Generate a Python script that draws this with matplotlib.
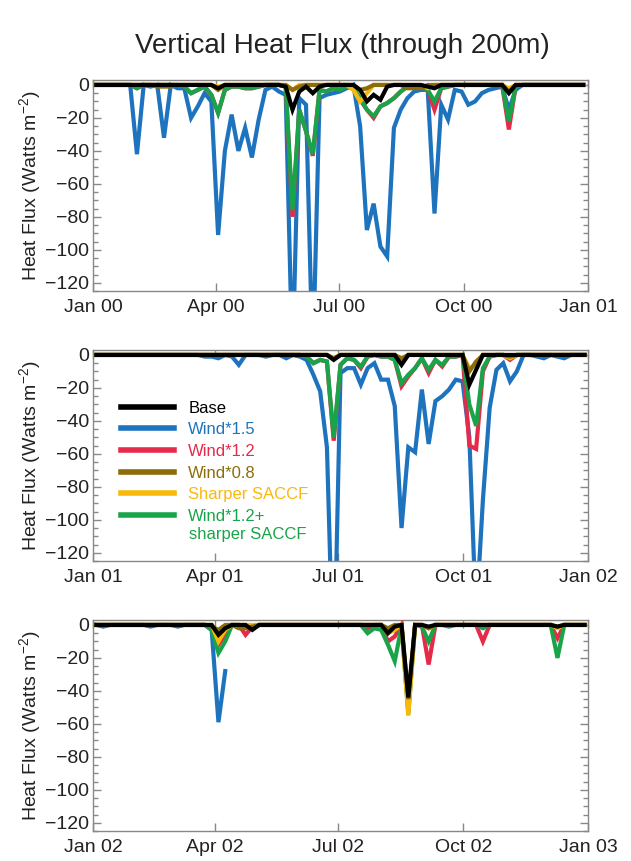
import matplotlib
matplotlib.use('Agg')
import matplotlib.pyplot as plt
import matplotlib.dates as mdates
from matplotlib.ticker import MultipleLocator
import numpy as np

plt.rcParams['font.family'] = ['Liberation Sans', 'DejaVu Sans']
plt.rcParams['mathtext.default'] = 'regular'

# 5-day means, 73 per year
years = [2000, 2001, 2002]
pentad_day = np.arange(73) * 5 + 2.5
nan = np.nan

# ---- 2000 ----
base_00 = [0, 0, 0, 0, 0, 0, 0, 0, 0, 0, 0, 0, 0, 0, 0, 0, 0, 0, -2, 0,
           0, 0, 0, 0, 0, 0, 0, 0, -1, -15, -4, -1, -5, -1, 0, 0, 0, 0, 0, -3,
           -10, -6, -9, -1, 0, 0, 0, 0, 0, -1, -2, 0, 0, 0, 0, 0, 0, 0, 0, 0,
           0, -5, 0, 0, 0, 0, 0, 0, 0, 0, 0, 0, 0]
w15_00 = [0, 0, 0, 0, 0, 0, -42, 0, -1, 0, -32, 0, -2, -2, -20, -13, -5, -10, -91, -40,
          -18, -40, -26, -44, -21, -3, -1, -4, -6, -170, -8, -12, -170, -8, -6, -5, -4, -2, 0, -25,
          -88, -72, -98, -104, -26, -15, -8, -4, -3, -3, -78, -12, -21, -3, -4, -12, -10, -5, -3, -2,
          -1, -15, -3, 0, 0, 0, 0, 0, 0, 0, 0, 0, 0]
w12_00 = [0, 0, 0, 0, 0, 0, -2, 0, 0, 0, 0, 0, 0, -1, -5, -3, -1, -6, -17, -3,
          -1, -1, -2, -2, -1, 0, 0, 0, -1, -80, -15, -28, -43, -3, -4, -2, -3, -1, -2, -9,
          -15, -20, -13, -11, -8, -4, -1, -1, -1, -3, -15, -2, -1, 0, 0, 0, 0, 0, 0, 0,
          0, -27, -1, 0, 0, 0, 0, 0, 0, 0, 0, 0, 0]
w08_00 = [0, 0, 0, 0, 0, 0, 0, 0, 0, -1, -1, -1, 0, 0, 0, 0, 0, 0, -3, 0,
          0, 0, 0, 0, 0, 0, 0, 0, 0, -3, -1, 0, 0, 0, 0, 0, 0, 0, 0, -3,
          -2, 0, 0, 0, 0, 0, -2, -2, -2, 0, 0, 0, 0, 0, 0, 0, 0, 0, 0, 0,
          0, -4, 0, 0, 0, 0, 0, 0, 0, 0, 0, 0, 0]
sharp_00 = [0, 0, 0, 0, 0, 0, 0, 0, 0, 0, 0, 0, 0, 0, 0, 0, 0, 0, -1, 0,
            0, 0, 0, 0, 0, 0, 0, 0, 0, -3, 0, 0, 0, 0, 0, 0, 0, 0, -3, -10,
            -5, 0, 0, 0, 0, 0, 0, 0, 0, -2, 0, 0, 0, 0, 0, 0, 0, 0, 0, 0,
            0, -2, 0, 0, 0, 0, 0, 0, 0, 0, 0, 0, 0]
w12s_00 = [0, 0, 0, 0, 0, 0, -2, 0, 0, 0, 0, 0, 0, -1, -5, -3, -1, -6, -17, -3,
           -1, -1, -2, -2, -1, 0, 0, 0, -1, -76, -15, -28, -42, -3, -4, -2, -3, -1, -2, -8,
           -15, -19, -13, -11, -8, -4, -1, -1, -1, -3, -10, -2, -1, 0, 0, 0, 0, 0, 0, 0,
           0, -22, -1, 0, 0, 0, 0, 0, 0, 0, 0, 0, 0]

# ---- 2001 ----
base_01 = [0, 0, 0, 0, 0, 0, 0, 0, 0, 0, 0, 0, 0, 0, 0, 0, 0, 0, 0, 0,
           0, 0, 0, 0, 0, 0, 0, 0, 0, 0, 0, 0, 0, 0, 0, -3, 0, 0, 0, 0,
           0, 0, 0, 0, 0, -6, 0, 0, 0, 0, 0, 0, 0, 0, 0, -18, -9, 0, 0, 0,
           0, 0, 0, 0, 0, 0, 0, 0, 0, 0, 0, 0, 0]
w15_01 = [0, 0, 0, 0, 0, 0, 0, 0, 0, 0, 0, 0, 0, 0, 0, 0, -1, -1, -2, 0,
          -1, -6, 0, 0, 0, -1, 0, 0, -2, 0, -1, -3, -12, -22, -56, -200, -11, -8, -8, -18,
          -8, -5, -15, -15, -31, -105, -56, -59, -21, -54, -28, -25, -21, -15, -16, -50, -160, -88, -32, -9,
          -5, -16, -10, 0, 0, -1, -2, 0, -1, -2, 0, 0, 0]
w12_01 = [0, 0, 0, 0, 0, 0, 0, 0, 0, 0, 0, 0, 0, 0, 0, 0, 0, 0, 0, 0,
          0, 0, 0, 0, 0, 0, 0, 0, 0, 0, 0, -1, -5, -3, -4, -52, -6, -2, -3, -8,
          -1, 0, -1, -1, -3, -19, -13, -8, -2, -11, -3, -7, -1, -1, 0, -55, -57, -10, -1, 0,
          0, -3, 0, 0, 0, 0, 0, 0, 0, 0, 0, 0, 0]
w08_01 = [0, 0, 0, 0, 0, 0, 0, 0, 0, 0, 0, 0, 0, 0, 0, 0, 0, 0, 0, 0,
          0, 0, 0, 0, 0, 0, 0, 0, 0, 0, 0, 0, 0, 0, 0, -2, 0, 0, 0, 0,
          0, 0, 0, 0, 0, -2, 0, 0, 0, 0, 0, 0, 0, 0, 0, -10, -4, 0, 0, 0,
          0, -1, 0, 0, 0, 0, 0, 0, 0, 0, 0, 0, 0]
sharp_01 = [0, 0, 0, 0, 0, 0, 0, 0, 0, 0, 0, 0, 0, 0, 0, 0, 0, 0, 0, 0,
            0, 0, 0, 0, 0, 0, 0, 0, 0, 0, 0, 0, 0, 0, 0, -2, 0, 0, 0, 0,
            0, 0, 0, 0, 0, -4, 0, 0, 0, 0, 0, 0, 0, 0, 0, -8, -6, 0, 0, 0,
            0, -2, 0, 0, 0, 0, 0, 0, 0, 0, 0, 0, 0]
w12s_01 = [0, 0, 0, 0, 0, 0, 0, 0, 0, 0, 0, 0, 0, 0, 0, 0, 0, 0, 0, 0,
           0, 0, 0, 0, 0, 0, 0, 0, 0, 0, 0, -1, -5, -3, -4, -50, -6, -2, -3, -7,
           -1, 0, -1, -1, -3, -17, -12, -8, -2, -9, -3, -6, -1, -1, 0, -30, -43, -8, -1, 0,
           0, -2, 0, 0, 0, 0, 0, 0, 0, 0, 0, 0, 0]

# ---- 2002 ----
base_02 = [0, 0, 0, 0, 0, 0, 0, 0, 0, 0, 0, 0, 0, 0, 0, 0, 0, 0, -6, -2,
           0, 0, 0, -3, 0, 0, 0, 0, 0, 0, 0, 0, 0, 0, 0, 0, 0, 0, 0, 0,
           0, 0, 0, -5, -1, 0, -44, 0, 0, -1, 0, 0, 0, 0, 0, 0, 0, 0, 0, 0,
           0, 0, 0, 0, 0, 0, 0, 0, -1, 0, 0, 0, 0]
w15_02 = [0, -1, 0, 0, 0, 0, 0, 0, -1, 0, 0, 0, -1, 0, 0, 0, 0, -3, -59, -28,
          nan, nan, nan, nan, nan, nan, nan, nan, nan, nan, nan, nan, nan, nan, nan, nan, nan, nan, nan, nan,
          nan, nan, nan, nan, nan, nan, nan, nan, nan, nan, nan, nan, nan, nan, nan, nan, nan, nan, nan, nan,
          nan, nan, nan, nan, nan, nan, nan, nan, nan, nan, nan, nan, nan]
w12_02 = [0, 0, 0, 0, 0, 0, 0, 0, 0, 0, 0, 0, 0, 0, 0, 0, 0, -1, -12, -6,
          0, 0, -6, -1, 0, 0, 0, 0, 0, 0, 0, 0, 0, 0, 0, 0, 0, 0, 0, 0,
          -2, 0, 0, -10, -7, 0, -50, 0, 0, -24, 0, 0, 0, 0, 0, 0, 0, -10, 0, 0,
          0, 0, 0, 0, 0, 0, 0, 0, -8, 0, 0, 0, 0]
w08_02 = [0, 0, 0, 0, 0, 0, 0, 0, 0, 0, 0, 0, 0, 0, 0, 0, 0, -1, -3, 0,
          0, -2, -2, -1, 0, 0, 0, 0, 0, 0, 0, 0, 0, 0, 0, 0, 0, 0, 0, 0,
          0, 0, 0, -2, 0, 0, -45, 0, 0, -2, 0, 0, 0, 0, 0, 0, 0, 0, 0, 0,
          0, 0, 0, 0, 0, 0, 0, 0, -1, 0, 0, 0, 0]
sharp_02 = [0, 0, 0, 0, 0, 0, 0, 0, 0, 0, 0, 0, 0, 0, 0, 0, 0, 0, -10, -3,
            0, 0, 0, 0, 0, 0, 0, 0, 0, 0, 0, 0, 0, 0, 0, 0, 0, 0, 0, 0,
            0, 0, 0, -5, -3, 0, -55, 0, 0, -2, 0, 0, 0, 0, 0, 0, 0, 0, 0, 0,
            0, 0, 0, 0, 0, 0, 0, 0, -2, 0, 0, 0, 0]
w12s_02 = [0, 0, 0, 0, 0, 0, 0, 0, 0, 0, 0, 0, 0, 0, 0, 0, 0, -3, -17, -10,
           0, 0, -1, -2, 0, 0, 0, 0, 0, 0, 0, 0, 0, 0, 0, 0, 0, 0, 0, 0,
           -5, -2, -3, -12, -22, -1, -54, 0, -1, -10, 0, 0, -1, 0, 0, 0, 0, -2, 0, 0,
           0, 0, 0, 0, 0, 0, 0, 0, -20, 0, 0, 0, 0]

labels = ['Base', 'Wind*1.5', 'Wind*1.2', 'Wind*0.8', 'Sharper SACCF', 'Wind*1.2+']
label_extra = 'sharper SACCF'
colors = ['#000000', '#1e73be', '#e62a4a', '#8c6d0a', '#f8b90c', '#19a44a']
zorders = [8, 2, 3, 6, 5, 4]
runs = [
    [base_00, w15_00, w12_00, w08_00, sharp_00, w12s_00],
    [base_01, w15_01, w12_01, w08_01, sharp_01, w12s_01],
    [base_02, w15_02, w12_02, w08_02, sharp_02, w12s_02],
]

fig = plt.figure(figsize=(6.31, 8.61), dpi=100)
fig.text(0.543, 1 - 46 / 861, 'Vertical Heat Flux (through 200m)',
         ha='center', va='center', fontsize=20, color='#222222')

tops = [80, 350, 620]
for i, year in enumerate(years):
    top = tops[i]
    ax = fig.add_axes([93 / 631, 1 - (top + 211) / 861, 495 / 631, 211 / 861])
    t0 = mdates.date2num(np.datetime64(f'{year}-01-01'))
    t = t0 + pentad_day
    lines = []
    for series, lab, c, z in zip(runs[i], labels, colors, zorders):
        ln, = ax.plot(t, series, color=c, lw=3, label=lab, zorder=z,
                      solid_joinstyle='miter')
        lines.append(ln)
    ax.set_xlim(t0, mdates.date2num(np.datetime64(f'{year + 1}-01-01')))
    ax.set_ylim(-125, 3)
    ax.xaxis.set_major_locator(mdates.MonthLocator(bymonth=[1, 4, 7, 10]))
    ax.xaxis.set_major_formatter(mdates.DateFormatter('%b %y'))
    ax.yaxis.set_major_locator(MultipleLocator(20))
    ax.yaxis.set_minor_locator(MultipleLocator(5))
    ax.tick_params(which='both', direction='in', top=True, right=True,
                   color='#888888', labelsize=14, labelcolor='#222222')
    ax.tick_params(which='major', length=6, width=1)
    ax.tick_params(which='minor', length=3.5, width=1)
    ax.tick_params(axis='y', pad=3)
    ax.tick_params(axis='x', pad=6)
    for sp in ax.spines.values():
        sp.set_color('#888888')
        sp.set_linewidth(1)
    ax.set_ylabel('Heat Flux (Watts m$^{-2}$)', fontsize=14, color='#222222')
    ax.yaxis.set_label_coords(-0.101, 0.5)

    if i == 1:
        leg = ax.legend(handles=lines, loc='upper left',
                        bbox_to_anchor=(0.056, 0.76), frameon=False,
                        fontsize=12, handlelength=3.2, handletextpad=0.85,
                        labelspacing=0.4, borderaxespad=0, borderpad=0)
        for txt, c in zip(leg.get_texts(), colors):
            txt.set_color(c)
        for h in leg.legend_handles:
            h.set_linewidth(4)
        ax.text((189 - 93) / 495, 1 - (534 - 350) / 211, label_extra,
                transform=ax.transAxes, ha='left', va='center',
                fontsize=12, color=colors[5])

fig.savefig('out.png', dpi=100)
